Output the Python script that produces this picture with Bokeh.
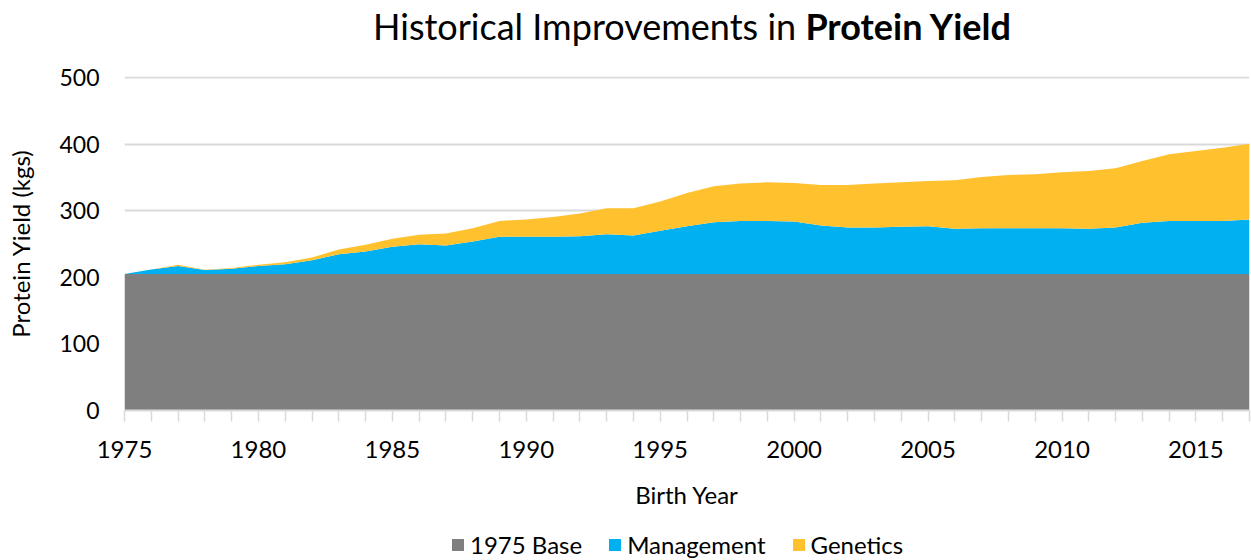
from bokeh.plotting import figure
from bokeh.layouts import column
from bokeh.models import (ColumnDataSource, Legend, LegendItem, FixedTicker, Range1d, Div)
from bokeh.embed import file_html
from bokeh.resources import INLINE

years = list(range(1975, 2018))
base = [205, 205, 205, 205, 205, 205, 205, 205, 205, 205,
        205, 205, 205, 205, 205, 205, 205, 205, 205, 205,
        205, 205, 205, 205, 205, 205, 205, 205, 205, 205,
        205, 205, 205, 205, 205, 205, 205, 205, 205, 205,
        205, 205, 205]
management = [0, 7, 12, 6, 8, 12, 15, 21, 30, 34,
              41, 45, 43, 49, 56, 56, 56, 57, 60, 58,
              65, 72, 78, 80, 80, 79, 73, 70, 70, 71,
              72, 68, 69, 69, 69, 69, 68, 70, 77, 80,
              80, 80, 82]
genetics = [0, 0, 2, 0.5, 1, 2, 3, 4, 7, 10,
            12, 14, 18, 20, 24, 26, 30, 34, 39, 41,
            44, 50, 54, 56, 58, 58, 61, 64, 66, 67,
            68, 73, 77, 80, 81, 84, 87, 89, 93, 100,
            105, 110, 114]
series_names = ["1975 Base", "Management", "Genetics"]
colors = ["#7F7F7F", "#00B0F0", "#FFC12E"]
y_ticks = [0, 100, 200, 300, 400, 500]

FONT = "Lato"
W = 1251

src = ColumnDataSource(dict(year=years, base=base, management=management, genetics=genetics))

# ---- title ----
title = Div(
    text=('<div style="box-sizing:border-box;width:%dpx;height:55px;line-height:52px;'
          'padding-left:133px;text-align:center;font-family:Lato;font-size:36px;color:#000;'
          'white-space:nowrap;">Historical Improvements in <b>Protein Yield</b></div>' % W),
    width=W, height=55, margin=0)

# ---- main chart ----
p = figure(width=W, height=460, output_backend="svg", toolbar_location=None,
           x_range=Range1d(1975, 2017), y_range=Range1d(0, 502),
           min_border_left=124, min_border_right=2, min_border_top=21, min_border_bottom=105,
           margin=0)
p.outline_line_color = None
p.background_fill_color = "white"

rs = p.varea_stack(["base", "management", "genetics"], x="year", color=colors, source=src)

p.xaxis.ticker = FixedTicker(ticks=years)
p.xaxis.major_label_overrides = {y: (str(y) if y % 5 == 0 else "") for y in years}
p.xaxis.minor_tick_line_color = None
p.xaxis.major_tick_in = 0
p.xaxis.major_tick_out = 11
p.xaxis.major_tick_line_color = "#D9D9D9"
p.xaxis.major_tick_line_width = 1.5
p.xaxis.axis_line_color = "#D9D9D9"
p.xaxis.axis_line_width = 2
p.xaxis.major_label_text_font = FONT
p.xaxis.major_label_text_font_size = "24px"
p.xaxis.major_label_text_color = "#000000"
p.xaxis.major_label_standoff = 19
p.xaxis.axis_label = "Birth Year"
p.xaxis.axis_label_text_font = FONT
p.xaxis.axis_label_text_font_style = "normal"
p.xaxis.axis_label_text_font_size = "24px"
p.xaxis.axis_label_text_color = "#000000"
p.xaxis.axis_label_standoff = 19

p.yaxis.ticker = FixedTicker(ticks=y_ticks)
p.yaxis.axis_line_color = None
p.yaxis.major_tick_line_color = None
p.yaxis.minor_tick_line_color = None
p.yaxis.major_tick_in = 0
p.yaxis.major_tick_out = 0
p.yaxis.major_label_text_font = FONT
p.yaxis.major_label_text_font_size = "23px"
p.yaxis.major_label_text_color = "#000000"
p.yaxis.major_label_standoff = 25
p.yaxis.axis_label = "Protein Yield (kgs)"
p.yaxis.axis_label_text_font = FONT
p.yaxis.axis_label_text_font_style = "normal"
p.yaxis.axis_label_text_font_size = "24px"
p.yaxis.axis_label_text_color = "#000000"
p.yaxis.axis_label_standoff = 21

p.xgrid.visible = False
p.ygrid.grid_line_color = "#D9D9D9"
p.ygrid.grid_line_width = 2

# ---- legend strip ----
lf = figure(width=W, height=45, output_backend="svg", toolbar_location=None,
            x_range=Range1d(0, 1), y_range=Range1d(0, 1),
            x_axis_location=None, y_axis_location=None,
            min_border_left=0, min_border_right=0,
            min_border_top=0, min_border_bottom=0, margin=0)
lf.outline_line_color = None
lf.xgrid.visible = False
lf.ygrid.visible = False
dummies = [lf.varea(x=[-5, -4], y1=[0, 0], y2=[0, 0], color=c) for c in colors]
legend = Legend(items=[LegendItem(label=n, renderers=[r]) for n, r in zip(series_names, dummies)],
                orientation="horizontal", location=(326, 1),
                label_text_font=FONT, label_text_font_size="24px", label_text_color="#000000",
                glyph_width=15, glyph_height=15, label_standoff=5, spacing=25,
                border_line_color=None, background_fill_alpha=0, margin=0, padding=0)
lf.add_layout(legend)

layout = column(title, p, lf, spacing=0)
open("out.html", "w").write(file_html(layout, INLINE))
